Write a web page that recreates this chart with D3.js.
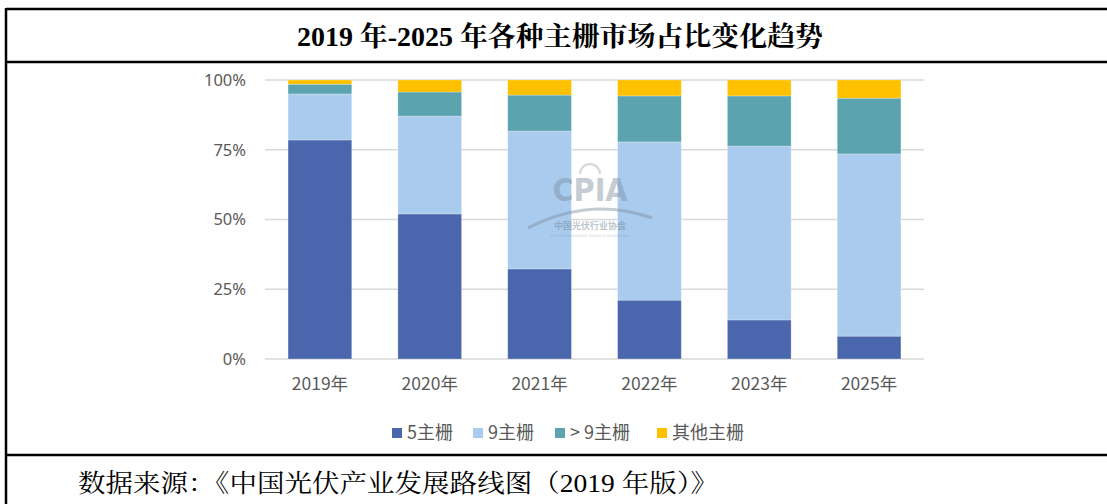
<!DOCTYPE html>
<html>
<head>
<meta charset="utf-8">
<script src="https://cdn.jsdelivr.net/npm/d3@7"></script>
<style>
  body { margin: 0; background: #fff; }
  svg { display: block; }
</style>
</head>
<body>
<div id="chart"></div>
<script>
// chart data (percent share)
var years = ['2019年', '2020年', '2021年', '2022年', '2023年', '2025年'];
var seriesNames = ['5主栅', '9主栅', '> 9主栅', '其他主栅'];
var busbar5 = [78.5, 52.0, 32.3, 21.1, 14.0, 8.2];
var busbar9 = [16.5, 35.1, 49.4, 56.7, 62.3, 65.3];
var busbarMore9 = [3.5, 8.6, 12.9, 16.5, 18.0, 20.0];
var busbarOther = [1.5, 4.3, 5.4, 5.7, 5.7, 6.5];
var yTicks = [0, 25, 50, 75, 100];
var colors = ['#4a66ac', '#a9cbed', '#5ba3ae', '#ffc000'];

var title = '2019 年-2025 年各种主栅市场占比变化趋势';
var source = '数据来源：《中国光伏产业发展路线图（2019 年版）》';

var W = 1107, H = 504;
var svg = d3.select('#chart').append('svg')
    .attr('width', W)
    .attr('height', H);

// build rows for the stack
var rows = years.map(function(y, i) {
    return {
        year: y,
        s0: busbar5[i],
        s1: busbar9[i],
        s2: busbarMore9[i],
        s3: busbarOther[i]
    };
});
var stack = d3.stack().keys(['s0', 's1', 's2', 's3']);
var layers = stack(rows);

var x = d3.scaleBand()
    .domain(years)
    .range([265, 924])
    .paddingInner(0.42)
    .paddingOuter(0.21);

var y = d3.scaleLinear()
    .domain([0, 100])
    .range([359, 80]);

// gridlines
svg.append('g')
    .selectAll('line')
    .data(yTicks)
    .enter()
    .append('line')
    .attr('x1', 265)
    .attr('x2', 924)
    .attr('y1', function(d) { return y(d); })
    .attr('y2', function(d) { return y(d); })
    .attr('stroke', '#d9d9d9')
    .attr('stroke-width', 1.5);

// y axis labels
var yAxis = d3.axisLeft(y)
    .tickValues(yTicks)
    .tickSize(0)
    .tickPadding(0)
    .tickFormat(function(d) { return d + '%'; });

var yg = svg.append('g')
    .attr('transform', 'translate(246,0)')
    .call(yAxis);
yg.select('.domain').remove();
yg.selectAll('text')
    .attr('font-family', '"Noto Sans", "Open Sans", sans-serif')
    .attr('font-size', '16.5px')
    .attr('fill', '#595959');

// bars
svg.append('g')
    .selectAll('g')
    .data(layers)
    .enter()
    .append('g')
    .attr('fill', function(d, i) { return colors[i]; })
    .selectAll('rect')
    .data(function(d) { return d; })
    .enter()
    .append('rect')
    .attr('x', function(d) { return x(d.data.year); })
    .attr('width', x.bandwidth())
    .attr('y', function(d) { return y(d[1]); })
    .attr('height', function(d) { return y(d[0]) - y(d[1]); })
    .attr('stroke', '#ffffff')
    .attr('stroke-opacity', 0.35)
    .attr('stroke-width', 0.75);

// x axis labels
var xAxis = d3.axisBottom(x).tickSize(0).tickPadding(0);
var xg = svg.append('g')
    .attr('transform', 'translate(0,378)')
    .call(xAxis);
xg.select('.domain').remove();
xg.selectAll('text')
    .attr('font-family', '"Noto Sans CJK SC", "Noto Sans", sans-serif')
    .attr('font-size', '17.5px')
    .attr('fill', '#595959');

// watermark
var wm = svg.append('g')
    .attr('transform', 'translate(590,0)')
    .attr('opacity', 0.45);
wm.append('text')
    .attr('x', 0)
    .attr('y', 201)
    .attr('text-anchor', 'middle')
    .attr('font-family', '"Liberation Sans Narrow", "DejaVu Sans Condensed", sans-serif')
    .attr('font-weight', 'bold')
    .attr('font-size', '32px')
    .attr('fill', '#7f8fa0')
    .text('CPIA');
wm.append('path')
    .attr('d', 'M -62 228 Q 0 196 62 218')
    .attr('fill', 'none')
    .attr('stroke', '#7f8fa0')
    .attr('stroke-width', 3);
wm.append('path')
    .attr('d', 'M -10 174 A 10 10 0 0 1 10 174')
    .attr('fill', 'none')
    .attr('stroke', '#a0a8b0')
    .attr('stroke-width', 2);
wm.append('text')
    .attr('x', 0)
    .attr('y', 229)
    .attr('text-anchor', 'middle')
    .attr('font-family', '"Noto Sans CJK SC", sans-serif')
    .attr('font-weight', 'bold')
    .attr('font-size', '9px')
    .attr('fill', '#6f7f90')
    .text('中国光伏行业协会');
wm.append('text')
    .attr('x', 0)
    .attr('y', 237)
    .attr('text-anchor', 'middle')
    .attr('font-family', '"DejaVu Sans", sans-serif')
    .attr('font-size', '4px')
    .attr('fill', '#8f9fb0')
    .text('China Photovoltaic Industry Association');

// legend
var legendX = [392, 473, 555, 657];
var lg = svg.append('g')
    .selectAll('g')
    .data(seriesNames)
    .enter()
    .append('g')
    .attr('transform', function(d, i) { return 'translate(' + legendX[i] + ',433)'; });
lg.append('rect')
    .attr('x', 0)
    .attr('y', -5)
    .attr('width', 10)
    .attr('height', 10)
    .attr('fill', function(d, i) { return colors[i]; });
lg.append('text')
    .attr('x', 15)
    .attr('y', 0)
    .attr('dy', '0.35em')
    .attr('font-family', '"Noto Sans CJK SC", "Noto Sans", sans-serif')
    .attr('font-size', '18px')
    .attr('fill', '#595959')
    .text(function(d) { return d; });

// frame lines
var frame = svg.append('g')
    .attr('stroke', '#000')
    .attr('stroke-width', 2.5);
frame.append('line').attr('x1', 6).attr('x2', W).attr('y1', 9).attr('y2', 9);
frame.append('line').attr('x1', 6).attr('x2', W).attr('y1', 62).attr('y2', 62);
frame.append('line').attr('x1', 6).attr('x2', W).attr('y1', 455).attr('y2', 455);
frame.append('line').attr('x1', 6).attr('x2', 6).attr('y1', 8).attr('y2', H);

// title
svg.append('text')
    .attr('x', 560)
    .attr('y', 46)
    .attr('text-anchor', 'middle')
    .attr('font-family', '"Liberation Serif", "Noto Serif CJK SC", "Noto Sans CJK SC", serif')
    .attr('font-weight', 'bold')
    .attr('font-size', '27px')
    .attr('textLength', 526)
    .attr('lengthAdjust', 'spacingAndGlyphs')
    .attr('fill', '#000')
    .text(title);

// source note
svg.append('text')
    .attr('x', 78)
    .attr('y', 492)
    .attr('font-family', '"Liberation Serif", "Noto Serif CJK SC", "Noto Sans CJK SC", serif')
    .attr('font-size', '25px')
    .attr('textLength', 640)
    .attr('lengthAdjust', 'spacingAndGlyphs')
    .attr('fill', '#000')
    .text(source);
</script>
</body>
</html>
